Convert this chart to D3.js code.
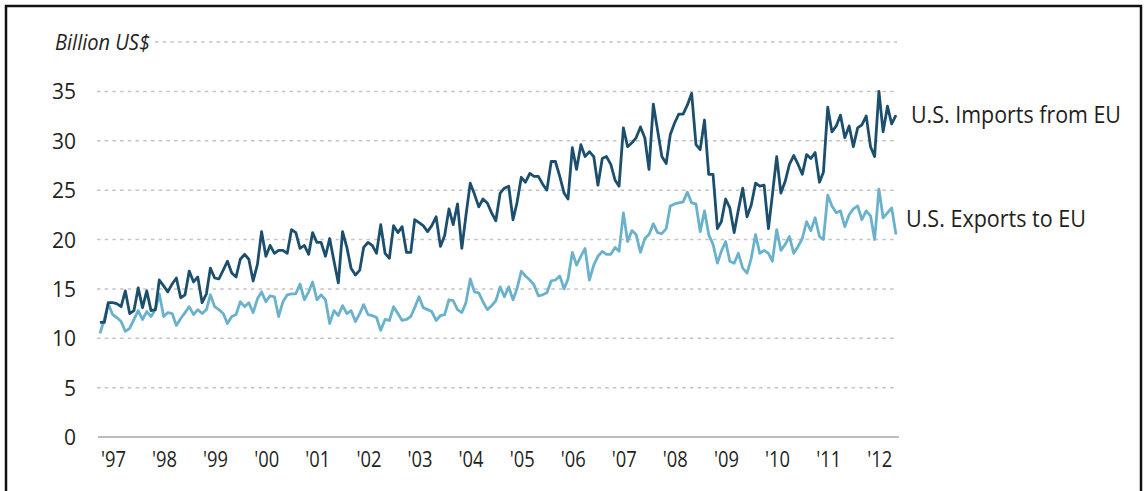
<!DOCTYPE html>
<html>
<head>
<meta charset="utf-8">
<script src="https://cdn.jsdelivr.net/npm/d3@7"></script>
<style>
  html, body { margin: 0; padding: 0; background: #fff; }
  svg text { font-family: "Open Sans", "Noto Sans", sans-serif; fill: #231f20; }
</style>
</head>
<body>
<script>
// monthly values, Jan 1997 .. Aug 2012 (billion US$)
var imports = [
  11.6, 11.6, 13.6, 13.6, 13.5, 13.2, 14.8, 12.5, 12.8, 15.1, 13.1, 14.8,
  12.8, 12.9, 15.9, 15.3, 14.7, 15.5, 16.1, 14.1, 14.4, 16.8, 15.7, 16.2,
  13.6, 14.5, 17.1, 16.1, 16.0, 16.9, 17.8, 16.6, 16.2, 18.0, 18.5, 18.0,
  15.8, 17.5, 20.8, 18.3, 19.4, 18.6, 18.9, 18.9, 18.6, 21.0, 20.7, 19.1,
  19.4, 18.5, 20.7, 19.7, 19.7, 18.3, 20.1, 17.8, 15.6, 20.8, 19.2, 17.1,
  16.4, 16.9, 19.2, 19.7, 19.4, 18.6, 21.5, 18.6, 18.1, 21.4, 20.7, 21.3,
  18.7, 18.7, 22.0, 21.7, 21.4, 20.8, 21.4, 22.3, 19.3, 20.4, 23.1, 21.5,
  23.6, 19.1, 22.4, 25.7, 24.6, 23.3, 24.1, 23.7, 22.7, 21.9, 24.7, 25.2,
  25.4, 22.0, 23.7, 26.3, 25.8, 26.7, 26.4, 26.4, 25.6, 25.0, 27.9, 27.9,
  26.4, 24.7, 24.1, 29.3, 27.1, 29.6, 28.4, 28.9, 28.4, 25.5, 28.2, 28.4,
  27.6, 26.0, 25.4, 31.3, 29.4, 29.8, 30.3, 31.4, 30.3, 27.1, 33.7, 31.1,
  28.4, 27.7, 30.6, 31.8, 32.7, 32.7, 33.6, 34.8, 29.6, 29.1, 32.1, 26.6,
  26.6, 21.1, 21.8, 24.1, 23.2, 20.7, 23.0, 25.2, 22.3, 23.5, 25.7, 25.4,
  25.5, 21.1, 24.5, 28.4, 24.7, 25.9, 27.6, 28.5, 27.6, 26.6, 28.6, 28.2,
  28.8, 25.8, 26.8, 33.4, 30.9, 31.5, 32.6, 30.3, 31.5, 29.4, 31.3, 31.6,
  32.5, 29.4, 28.4, 35.0, 30.9, 33.5, 31.7, 32.6
];
var exports = [
  10.5, 11.9, 13.5, 12.4, 12.1, 11.7, 10.7, 11.0, 11.9, 12.8, 11.9, 12.7,
  12.2, 12.9, 14.5, 12.2, 12.6, 12.5, 11.3, 12.0, 12.6, 13.2, 12.4, 12.9,
  12.5, 12.9, 14.4, 13.2, 12.9, 12.5, 11.5, 12.2, 12.4, 13.7, 13.2, 13.6,
  12.6, 14.0, 14.7, 13.7, 14.3, 14.2, 12.2, 13.7, 14.4, 14.5, 14.5, 15.5,
  13.9, 14.7, 15.7, 13.9, 14.4, 13.9, 11.5, 12.8, 12.3, 13.3, 12.5, 12.8,
  11.7, 12.5, 13.4, 12.4, 12.3, 12.1, 10.8, 11.9, 11.8, 13.2, 12.5, 11.8,
  11.9, 12.2, 13.1, 14.2, 13.1, 12.9, 12.7, 11.8, 12.3, 12.4, 13.9, 13.8,
  12.9, 12.6, 13.6, 16.0, 14.7, 14.6, 13.7, 12.9, 13.3, 13.8, 15.2, 14.2,
  15.2, 13.9, 15.0, 16.8, 16.3, 15.9, 15.4, 14.3, 14.4, 14.6, 15.8, 15.9,
  16.3, 15.0, 16.0, 18.7, 17.4, 18.3, 19.1, 15.9, 17.4, 18.3, 18.8, 18.5,
  18.5, 19.2, 18.8, 22.7, 19.8, 20.9, 20.5, 18.7, 20.1, 20.5, 21.6, 20.7,
  20.6, 21.1, 23.4, 23.6, 23.7, 23.8, 24.8, 23.7, 23.6, 20.8, 22.9, 20.5,
  19.5, 17.6, 18.8, 19.8, 17.8, 17.6, 18.6, 17.1, 16.6, 18.1, 20.5, 18.6,
  18.9, 18.6, 17.8, 21.0, 18.9, 19.5, 20.3, 18.6, 19.3, 20.1, 21.8, 20.9,
  22.2, 20.3, 20.0, 24.5, 23.4, 22.7, 22.9, 21.3, 22.5, 23.1, 23.4, 22.0,
  22.9, 22.4, 20.0, 25.1, 22.2, 22.7, 23.2, 20.5
];
var yearLabels = ["'97", "'98", "'99", "'00", "'01", "'02", "'03", "'04",
                  "'05", "'06", "'07", "'08", "'09", "'10", "'11", "'12"];
var yTicks = [0, 5, 10, 15, 20, 25, 30, 35];
var seriesNames = ["U.S. Imports from EU", "U.S. Exports to EU"];

window.onload = function(){
  var w = 1148;
  var h = 491;

  var months = d3.timeMonth.range(new Date(1997, 0, 1), new Date(1997, imports.length, 1));

  var x = d3.scaleTime()
          .domain([months[0], months[months.length - 1]])
          .range([100, 896]);

  var y = d3.scaleLinear()
          .domain([0, 40])
          .range([437, 42]);

  var svg = d3.select('body').append('svg')
              .attr('width', w)
              .attr('height', h);

  // black frame round the whole figure
  svg.append('rect')
    .attr('x', 6).attr('y', 6)
    .attr('width', 1135).attr('height', 500)
    .attr('fill', 'none')
    .attr('stroke', '#111')
    .attr('stroke-width', 2.5);

  // dashed gridlines
  svg.selectAll('.grid')
    .data(yTicks.filter(function(d){ return d > 0; }))
    .enter().append('line')
    .attr('x1', 97).attr('x2', 897)
    .attr('y1', function(d){ return y(d); })
    .attr('y2', function(d){ return y(d); })
    .attr('stroke', '#c4c4c4')
    .attr('stroke-width', 1.5)
    .attr('stroke-dasharray', '3.5,4.2');

  // top line sits beside the unit label
  svg.append('line')
    .attr('x1', 155).attr('x2', 897)
    .attr('y1', y(40)).attr('y2', y(40))
    .attr('stroke', '#c4c4c4')
    .attr('stroke-width', 1.5)
    .attr('stroke-dasharray', '3.5,4.2');

  // zero line
  svg.append('line')
    .attr('x1', 98).attr('x2', 899)
    .attr('y1', y(0)).attr('y2', y(0))
    .attr('stroke', '#bdbdbd')
    .attr('stroke-width', 2);

  svg.selectAll('.ylab')
    .data(yTicks)
    .enter().append('text')
    .attr('x', 76)
    .attr('y', function(d){ return y(d) + 8; })
    .attr('text-anchor', 'end')
    .style('font-size', '21px')
    .text(function(d){ return d; });

  svg.append('text')
    .attr('x', 55).attr('y', 50)
    .style('font-size', '21px')
    .style('font-style', 'italic')
    .attr('textLength', 95)
    .attr('lengthAdjust', 'spacingAndGlyphs')
    .text('Billion US$');

  svg.selectAll('.xlab')
    .data(yearLabels)
    .enter().append('text')
    .attr('x', function(d, i){ return x(new Date(1997 + i, 0, 1)) + 1; })
    .attr('y', 467)
    .style('font-size', '21px')
    .attr('textLength', 25)
    .attr('lengthAdjust', 'spacingAndGlyphs')
    .text(function(d){ return d; });

  var line = d3.line()
    .x(function(d, i){ return x(months[i]); })
    .y(function(d){ return y(d); });

  svg.append('path')
    .datum(exports)
    .attr('d', line)
    .attr('fill', 'none')
    .attr('stroke', '#6ab2cb')
    .attr('stroke-width', 2.8)
    .attr('stroke-linejoin', 'round');

  svg.append('path')
    .datum(imports)
    .attr('d', line)
    .attr('fill', 'none')
    .attr('stroke', '#1b4f6d')
    .attr('stroke-width', 2.8)
    .attr('stroke-linejoin', 'round');

  // series labels at the right end
  svg.append('text')
    .attr('x', 911).attr('y', 123)
    .style('font-size', '24px')
    .attr('textLength', 210)
    .attr('lengthAdjust', 'spacingAndGlyphs')
    .text(seriesNames[0]);

  svg.append('text')
    .attr('x', 906).attr('y', 227)
    .style('font-size', '24px')
    .attr('textLength', 180)
    .attr('lengthAdjust', 'spacingAndGlyphs')
    .text(seriesNames[1]);
};
</script>
</body>
</html>
